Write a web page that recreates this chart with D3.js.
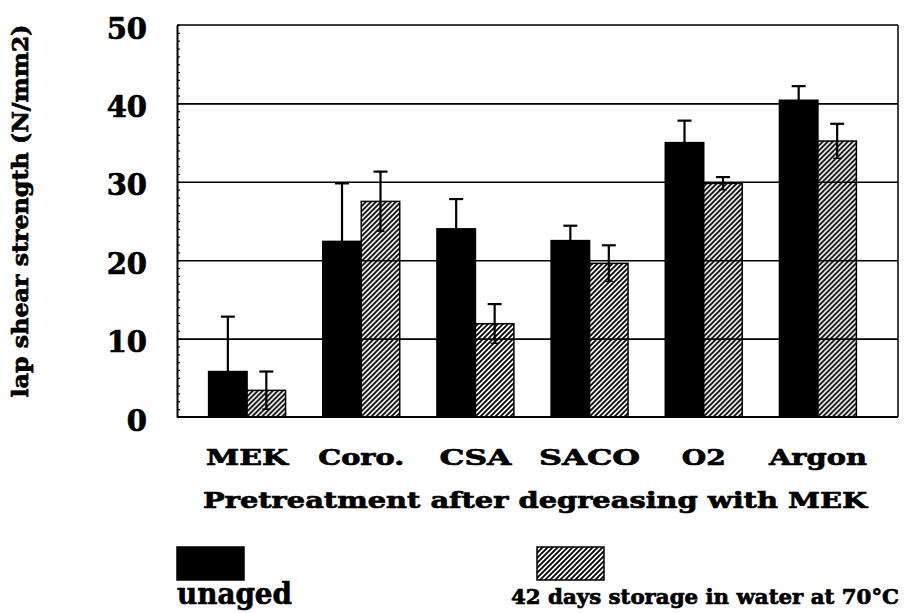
<!DOCTYPE html>
<meta charset="utf-8">
<style>
body { margin: 0; background: #fff; }
text { font-family: "DejaVu Serif", "Liberation Serif", serif; font-weight: bold; fill: #000;
       stroke: #000; stroke-width: 0.7px; }
</style>
<body>
<svg id="chart" width="907" height="613"></svg>
<script src="https://cdn.jsdelivr.net/npm/d3@7"></script>
<script>
// values
const categories = ["MEK", "Coro.", "CSA", "SACO", "O2", "Argon"];
const seriesNames = ["unaged", "42 days storage in water at 70°C"];
const unaged    = [5.8, 22.4, 24.0, 22.5, 35.0, 40.4];
const unagedErr = [7.0, 7.4, 3.8, 1.9, 2.8, 1.8];
const aged      = [3.4, 27.5, 11.9, 19.6, 29.8, 35.2];
const agedErr   = [2.4, 3.8, 2.5, 2.3, 0.8, 2.2];
const yTicks = [0, 10, 20, 30, 40, 50];

// label widths in the scanned figure (its typeface is wider than ours)
const catWidths = [82, 86, 72, 101, 44, 98];

const svg = d3.select("#chart");

const plotLeft = 177, plotRight = 898, plotTop = 25, plotBottom = 417;

const y = d3.scaleLinear().domain([0, 50]).range([plotBottom, plotTop]);
const x0 = d3.scaleBand().domain(categories).range([190, 875])
             .paddingInner(0.326).paddingOuter(0.163);
const x1 = d3.scaleBand().domain(seriesNames).range([0, x0.bandwidth()]);

// hatch pattern
const defs = svg.append("defs");
const pat = defs.append("pattern")
    .attr("id", "hatch")
    .attr("patternUnits", "userSpaceOnUse")
    .attr("width", 5).attr("height", 5);
pat.append("rect").attr("width", 5).attr("height", 5).attr("fill", "#fff");
pat.append("path")
    .attr("d", "M-1,1 l2,-2 M0,5 l5,-5 M4,6 l2,-2")
    .attr("stroke", "#000").attr("stroke-width", 1.8);

const fills = ["#000", "url(#hatch)"];

let rows = categories.map((c, i) => ({
  cat: c,
  vals: [
    {s: seriesNames[0], v: unaged[i], e: unagedErr[i], k: 0},
    {s: seriesNames[1], v: aged[i], e: agedErr[i], k: 1}
  ]
}));

let groups = svg.append("g").selectAll("g")
  .data(rows).enter().append("g")
  .attr("transform", d => "translate(" + x0(d.cat) + ",0)");

groups.selectAll("rect")
  .data(d => d.vals).enter().append("rect")
  .attr("x", d => x1(d.s))
  .attr("y", d => y(d.v))
  .attr("width", x1.bandwidth())
  .attr("height", d => y(0) - y(d.v))
  .attr("fill", d => fills[d.k])
  .attr("stroke", "#000")
  .attr("stroke-width", 1.5);

// grid lines
svg.append("g")
  .attr("transform", "translate(" + plotLeft + ",0)")
  .call(d3.axisLeft(y).tickValues(yTicks.slice(1, -1)).tickSize(-(plotRight - plotLeft)).tickFormat(""))
  .call(g => g.select(".domain").remove())
  .selectAll("line").attr("stroke", "#000").attr("stroke-width", 1.6);

// error bars
const cx = d => x1(d.s) + x1.bandwidth() / 2;
const lo = d => y(Math.max(0, d.v - d.e));
let errs = groups.selectAll("g.err")
  .data(d => d.vals).enter().append("g").attr("class", "err");
errs.append("line")
  .attr("x1", cx).attr("x2", cx)
  .attr("y1", lo)
  .attr("y2", d => y(d.v + d.e))
  .attr("stroke", "#000").attr("stroke-width", 2.2);
errs.append("line")
  .attr("x1", d => cx(d) - 7).attr("x2", d => cx(d) + 7)
  .attr("y1", d => y(d.v + d.e)).attr("y2", d => y(d.v + d.e))
  .attr("stroke", "#000").attr("stroke-width", 2.2);
errs.filter(d => d.v - d.e > 0).append("line")
  .attr("x1", d => cx(d) - 4).attr("x2", d => cx(d) + 4)
  .attr("y1", lo).attr("y2", lo)
  .attr("stroke", "#000").attr("stroke-width", 1.5);

// frame
svg.append("line").attr("x1", plotLeft).attr("x2", plotRight).attr("y1", plotTop).attr("y2", plotTop)
  .attr("stroke", "#000").attr("stroke-width", 1.5);
svg.append("line").attr("x1", plotRight).attr("x2", plotRight).attr("y1", plotTop).attr("y2", plotBottom)
  .attr("stroke", "#000").attr("stroke-width", 1.5);
svg.append("line").attr("x1", plotLeft).attr("x2", plotRight).attr("y1", plotBottom).attr("y2", plotBottom)
  .attr("stroke", "#000").attr("stroke-width", 2);

// minor ticks, inward
svg.append("g")
  .attr("transform", "translate(" + plotLeft + ",0)")
  .call(d3.axisRight(y).tickValues(d3.range(0, 51)).tickSize(3).tickSizeOuter(0).tickFormat(""))
  .call(g => g.select(".domain").attr("stroke-width", 2))
  .selectAll("line").attr("stroke-width", 1.2);

// y labels
svg.append("g")
  .attr("transform", "translate(" + plotLeft + ",0)")
  .call(d3.axisLeft(y).tickValues(yTicks).tickSize(0).tickPadding(30))
  .call(g => g.select(".domain").remove())
  .selectAll("text")
  .attr("font-size", 29)
  .attr("font-family", "DejaVu Serif")
  .attr("font-weight", "bold")
  .attr("fill", "#000")
  .attr("stroke", "#000").attr("stroke-width", 0.9)
  .attr("dy", "0.45em");

// category labels
svg.append("g")
  .selectAll("text").data(categories).enter().append("text")
  .attr("x", d => x0(d) + x0.bandwidth() / 2)
  .attr("y", 465)
  .attr("text-anchor", "middle")
  .attr("font-size", 23)
  .attr("textLength", (d, i) => catWidths[i])
  .attr("lengthAdjust", "spacingAndGlyphs")
  .text(d => d);

svg.append("text")
  .attr("x", 535).attr("y", 508)
  .attr("text-anchor", "middle")
  .attr("font-size", 23)
  .attr("textLength", 664)
  .attr("lengthAdjust", "spacingAndGlyphs")
  .text("Pretreatment after degreasing with MEK");

svg.append("text")
  .attr("transform", "translate(28,211) rotate(-90)")
  .attr("text-anchor", "middle")
  .attr("font-size", 23)
  .attr("textLength", 373)
  .attr("lengthAdjust", "spacingAndGlyphs")
  .text("lap shear strength (N/mm2)");

// legend
const legendX = [177, 537];
const legendTextX = [177, 511];
const legendFont = [29, 21];
const legendWidths = [115, 388];
seriesNames.forEach((s, i) => {
  svg.append("rect")
    .attr("x", legendX[i]).attr("y", 547)
    .attr("width", 67).attr("height", 33)
    .attr("fill", fills[i])
    .attr("stroke", "#000").attr("stroke-width", 1.5);
  svg.append("text")
    .attr("x", legendTextX[i]).attr("y", 604)
    .attr("font-size", legendFont[i])
    .attr("textLength", legendWidths[i])
    .attr("lengthAdjust", "spacingAndGlyphs")
    .text(s);
});
</script>
</body>
